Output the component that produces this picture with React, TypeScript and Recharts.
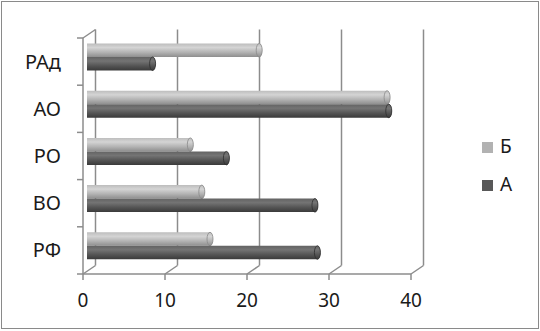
import React from 'react'
import { BarChart, Bar, XAxis, YAxis, CartesianGrid, Legend } from 'recharts'

const categories = ['РАд', 'АО', 'РО', 'ВО', 'РФ']
const seriesB = [21, 36.6, 12.6, 14, 15]
const seriesA = [8, 36.8, 17, 27.8, 28.1]
const xTicks = [0, 10, 20, 30, 40]
const legendItems = [
  { key: 'B', label: 'Б', color: '#b2b2b2' },
  { key: 'A', label: 'А', color: '#585858' },
]

const data = categories.map((name, i) => ({ name, B: seriesB[i], A: seriesA[i] }))

const W = 540
const H = 331
const PLOT_LEFT = 83
const PLOT_TOP = 38
const PLOT_RIGHT = 411
const PLOT_BOTTOM = 274
const PLOT_H = PLOT_BOTTOM - PLOT_TOP
const BAND = PLOT_H / categories.length
// 3D depth offset of the back wall
const DX = 12.5
const DY = 8.5
// bars sit half way into the depth
const BAR_DX = 4
const BAR_DY = 4.5

const FONT = "'Noto Sans', 'DejaVu Sans', sans-serif"
const LINE = '#8c8c8c'

function cylinder(gradId: string, capStroke: string) {
  return (props: any) => {
    const { x, y, width, height } = props
    if (width == null || height == null) return <g />
    const bx = x + BAR_DX
    const by = y - BAR_DY
    const w = Math.max(width, 0)
    const rx = 3
    const ry = height / 2
    return (
      <g>
        <path
          d={`M${bx},${by} H${bx + w} A${rx},${ry} 0 0 1 ${bx + w},${by + height} H${bx} Z`}
          fill={`url(#${gradId})`}
        />
        <ellipse cx={bx + w} cy={by + ry} rx={rx} ry={ry} fill={`url(#${gradId})`} stroke={capStroke} strokeWidth={0.8} />
      </g>
    )
  }
}

function XTick(props: any) {
  const { x, payload } = props
  return (
    <g>
      <line x1={x} y1={PLOT_BOTTOM} x2={x + DX} y2={PLOT_BOTTOM - DY} stroke={LINE} strokeWidth={1.5} />
      {payload.value === 0 && (
        <line x1={x} y1={PLOT_TOP} x2={x + DX} y2={PLOT_TOP - DY} stroke={LINE} strokeWidth={1.5} />
      )}
      <text x={x} y={PLOT_BOTTOM + 32.5} textAnchor='middle' fontFamily={FONT} fontSize={19} fill='#1a1a1a'>
        {payload.value}
      </text>
    </g>
  )
}

function YTick(props: any) {
  const { y, payload, index } = props
  return (
    <g>
      <line x1={PLOT_LEFT - 6} y1={y - BAND / 2} x2={PLOT_LEFT} y2={y - BAND / 2} stroke={LINE} strokeWidth={1.5} />
      {index === categories.length - 1 && (
        <line x1={PLOT_LEFT - 6} y1={y + BAND / 2} x2={PLOT_LEFT} y2={y + BAND / 2} stroke={LINE} strokeWidth={1.5} />
      )}
      <text x={PLOT_LEFT - 22} y={y + 7} textAnchor='end' fontFamily={FONT} fontSize={20} fill='#1a1a1a'>
        {payload.value}
      </text>
    </g>
  )
}

function LegendBox() {
  return (
    <svg width={60} height={70}>
      {legendItems.map((item, i) => (
        <g key={item.key}>
          <rect x={4} y={12 + i * 38} width={11} height={11} fill={item.color} />
          <text x={22} y={23 + i * 38} fontFamily={FONT} fontSize={19} fill='#1a1a1a'>
            {item.label}
          </text>
        </g>
      ))}
    </svg>
  )
}

export default function App() {
  return (
    <div style={{ position: 'absolute', left: 0, top: 0, width: W, height: H, background: '#fff' }}>
      <div
        style={{
          position: 'absolute',
          left: 1,
          top: 1,
          width: W - 4,
          height: H - 5,
          border: '1.5px solid #8a8a8a',
        }}
      />
      <BarChart
        width={W}
        height={H}
        data={data}
        layout='vertical'
        barSize={13.5}
        barGap={0}
        margin={{ top: PLOT_TOP, right: W - PLOT_RIGHT, left: PLOT_LEFT - 60, bottom: H - PLOT_BOTTOM - 30 }}
      >
        <defs>
          <linearGradient id='gradB' x1='0' y1='0' x2='0' y2='1'>
            <stop offset='0%' stopColor='#bdbdbd' />
            <stop offset='30%' stopColor='#d4d4d4' />
            <stop offset='65%' stopColor='#b3b3b3' />
            <stop offset='100%' stopColor='#8e8e8e' />
          </linearGradient>
          <linearGradient id='gradA' x1='0' y1='0' x2='0' y2='1'>
            <stop offset='0%' stopColor='#636363' />
            <stop offset='30%' stopColor='#747474' />
            <stop offset='65%' stopColor='#555555' />
            <stop offset='100%' stopColor='#3a3a3a' />
          </linearGradient>
        </defs>
        <CartesianGrid
          horizontal={false}
          y={PLOT_TOP - DY}
          height={PLOT_H}
          stroke={LINE}
          strokeWidth={1.5}
          verticalCoordinatesGenerator={({ xAxis, offset }: any) =>
            xTicks.map((t) =>
              (xAxis && typeof xAxis.scale === 'function'
                ? xAxis.scale(t)
                : offset.left + (t / 40) * offset.width) + DX
            )
          }
        />
        <XAxis
          type='number'
          domain={[0, 40]}
          ticks={xTicks}
          interval={0}
          height={30}
          axisLine={{ stroke: LINE, strokeWidth: 1.5 }}
          tickLine={{ stroke: LINE, strokeWidth: 1.5 }}
          tickSize={6}
          tick={<XTick />}
        />
        <YAxis
          type='category'
          dataKey='name'
          width={60}
          axisLine={{ stroke: LINE, strokeWidth: 1.5 }}
          tickLine={false}
          interval={0}
          tick={<YTick />}
        />
        <Legend
          layout='vertical'
          align='center'
          verticalAlign='middle'
          wrapperStyle={{ left: 478, top: 130, width: 60, height: 70 }}
          content={<LegendBox />}
        />
        <Bar dataKey='B' name='Б' fill='#b2b2b2' isAnimationActive={false} shape={cylinder('gradB', '#8a8a8a')} />
        <Bar dataKey='A' name='А' fill='#585858' isAnimationActive={false} shape={cylinder('gradA', '#2e2e2e')} />
      </BarChart>
    </div>
  )
}
